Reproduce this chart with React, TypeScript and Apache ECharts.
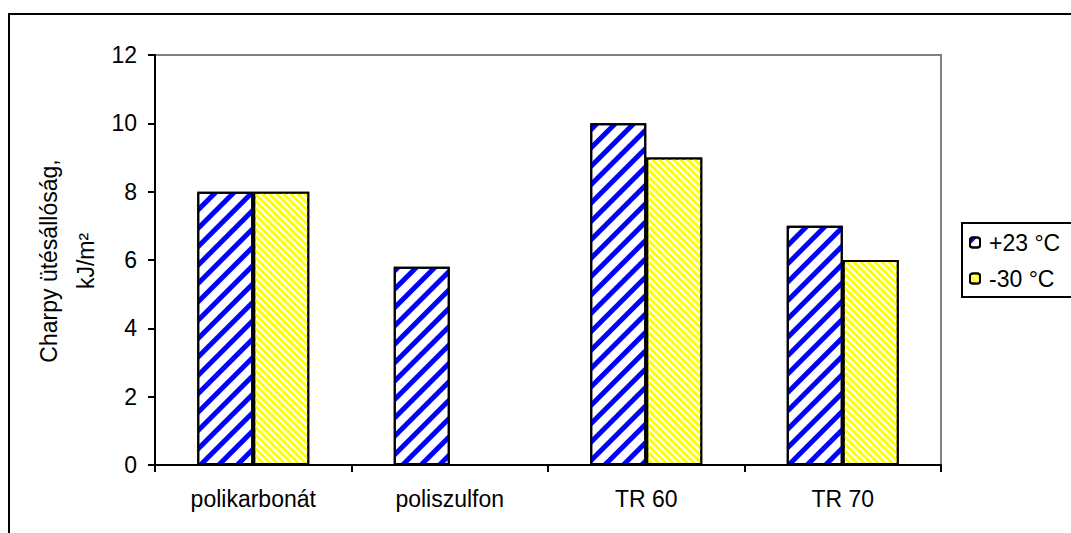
import React, { useEffect, useRef } from "react";
import * as echarts from "echarts";

const categories = ["polikarbonát", "poliszulfon", "TR 60", "TR 70"];
const seriesNames = ["+23 °C", "-30 °C"];
const warmValues = [8, 5.8, 10, 7];
const coldValues: (number | null)[] = [8, null, 9, 6];
const yTicks = { min: 0, max: 12, interval: 2 };
const yTitle1 = "Charpy ütésállóság,";
const yTitle2 = "kJ/m²";

export default function App() {
  const ref = useRef<HTMLDivElement>(null);
  useEffect(() => {
    if (!ref.current) return;
    const chart = echarts.init(ref.current, undefined, { renderer: "svg" });
    const font = "Liberation Sans, Arial, sans-serif";
    const fs = 23;
    chart.setOption({
      animation: false,
      backgroundColor: "#fff",
      textStyle: { fontFamily: font },
      grid: {
        left: 155,
        top: 55,
        right: 130,
        bottom: 68,
        show: true,
        borderColor: "#808080",
        borderWidth: 2,
        backgroundColor: "transparent",
      },
      legend: {
        orient: "vertical",
        left: 969,
        top: 231,
        padding: 0,
        itemWidth: 10,
        itemHeight: 10,
        itemGap: 13,
        data: seriesNames,
        textStyle: { fontSize: fs, color: "#000", fontFamily: font, padding: [0, 0, 0, 4] },
      },
      xAxis: {
        type: "category",
        data: categories,
        axisLine: { lineStyle: { color: "#000", width: 2 } },
        axisTick: { show: true, length: 7, lineStyle: { color: "#000", width: 2 }, interval: 0 },
        axisLabel: { fontSize: fs, color: "#000", margin: 22, interval: 0, fontFamily: font },
        splitLine: { show: false },
      },
      yAxis: {
        type: "value",
        min: yTicks.min,
        max: yTicks.max,
        interval: yTicks.interval,
        axisLine: { show: true, lineStyle: { color: "#000", width: 2 } },
        axisTick: { show: true, length: 7, lineStyle: { color: "#000", width: 2 } },
        axisLabel: { fontSize: fs, color: "#000", margin: 18, fontFamily: font },
        splitLine: { show: false },
      },
      series: [
        {
          name: seriesNames[0],
          type: "bar",
          data: warmValues,
          barWidth: 56,
          barGap: "0%",
          itemStyle: {
            color: "#fff",
            borderColor: "#000",
            borderWidth: 2,
            decal: {
              symbol: "rect",
              color: "#0000ff",
              dashArrayX: [1, 0],
              dashArrayY: [5, 8],
              rotation: -Math.PI / 4,
            },
          },
        },
        {
          name: seriesNames[1],
          type: "bar",
          data: coldValues,
          barWidth: 56,
          barGap: "0%",
          itemStyle: {
            color: "#fff",
            borderColor: "#000",
            borderWidth: 2,
            decal: {
              symbol: "rect",
              color: "#ffff00",
              dashArrayX: [1, 0],
              dashArrayY: [3, 2],
              rotation: Math.PI / 4,
            },
          },
        },
      ],
      graphic: [
        {
          type: "rect",
          shape: { x: 9, y: 14, width: 1200, height: 700 },
          style: { fill: "none", stroke: "#000", lineWidth: 2 },
          z: 100,
        },
        {
          type: "rect",
          shape: { x: 962, y: 223, width: 200, height: 74 },
          style: { fill: "none", stroke: "#000", lineWidth: 2 },
          z: 100,
        },
        {
          type: "text",
          x: 49,
          y: 261,
          rotation: Math.PI / 2,
          style: {
            text: yTitle1,
            fontSize: fs,
            fill: "#000",
            fontFamily: font,
            align: "center",
            verticalAlign: "middle",
          },
        },
        {
          type: "text",
          x: 86,
          y: 261,
          rotation: Math.PI / 2,
          style: {
            text: yTitle2,
            fontSize: fs,
            fill: "#000",
            fontFamily: font,
            align: "center",
            verticalAlign: "middle",
          },
        },
      ],
    });
    return () => chart.dispose();
  }, []);
  return (
    <div
      ref={ref}
      style={{ position: "fixed", left: 0, top: 0, width: 1071, height: 533, background: "#fff" }}
    />
  );
}
